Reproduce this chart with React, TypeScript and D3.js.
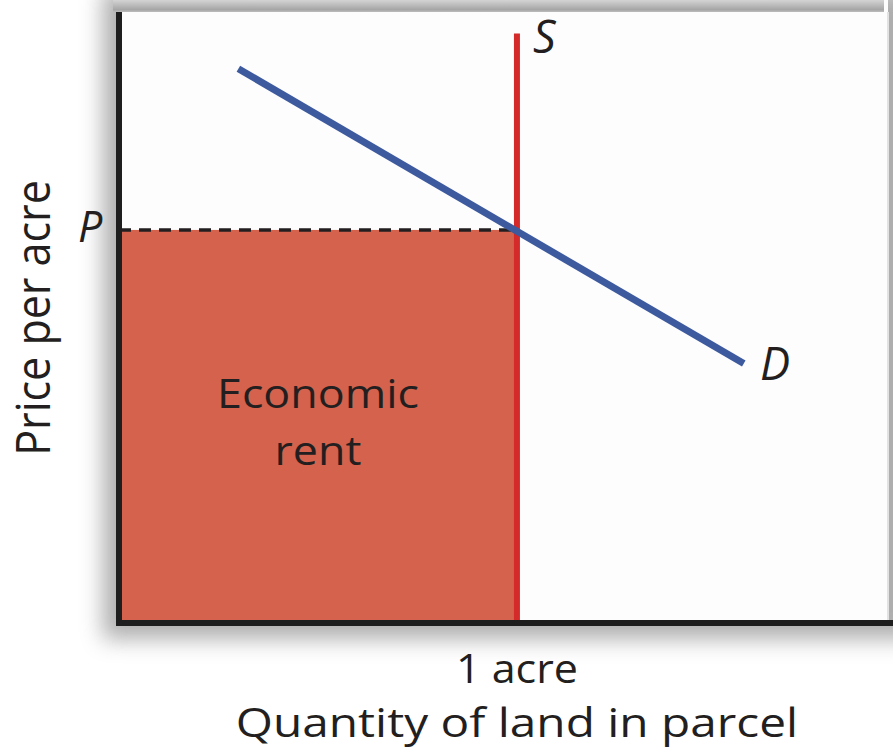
import React from 'react';
import * as d3 from 'd3';

// values (quantity in acres, price in arbitrary units)
const equilibriumPrice = 10;
const supplyQuantity = 1;
const supplyPrices = [0, 15];
const demandQuantities = [0.3, 1.57];
const demandPrices = [14.1, 6.6];
const qDomain = [0, 1.945];
const pDomain = [0, 15.85];

const W = 893;
const H = 752;
const FONT = "'Open Sans', 'Noto Sans', sans-serif";
const INK = '#231f20';

export default function App() {
  const x = d3.scaleLinear().domain(qDomain).range([119, W]);
  const y = d3.scaleLinear().domain(pDomain).range([623, 0]);

  const demand = demandQuantities.map((q, i) => [q, demandPrices[i]] as [number, number]);
  const line = d3.line<[number, number]>().x(d => x(d[0])).y(d => y(d[1]));

  const x0 = x(0);
  const y0 = y(0);
  const xS = x(supplyQuantity);
  const yP = y(equilibriumPrice);
  const rentX = (x0 + xS) / 2;

  return (
    <svg width={W} height={H} style={{ position: 'absolute', left: 0, top: 0, background: '#fff' }}>
      <defs>
        <filter id="shadow" x="-20%" y="-20%" width="140%" height="140%">
          <feGaussianBlur stdDeviation="11" />
        </filter>
        <linearGradient id="topbar" x1="0" y1="0" x2="0" y2="1">
          <stop offset="0" stopColor="#d4d4d4" />
          <stop offset="0.8" stopColor="#a6a6a6" />
          <stop offset="1" stopColor="#bdbdbd" />
        </linearGradient>
      </defs>

      {/* panel shadow and panel */}
      <rect x={x0 - 16} y={-10} width={W} height={y0 + 26} fill="#8c8c8c" opacity={0.7} filter="url(#shadow)" />
      <rect x={x0} y={0} width={888 - x0} height={y0} fill="#fdfdfd" />
      <rect x={x0 - 6} y={0} width={888 - x0 + 2} height={12} fill="url(#topbar)" />
      <line x1={888} x2={888} y1={12} y2={y0} stroke="#e2e2e2" strokeWidth={2} />

      {/* economic rent area */}
      <rect x={x0} y={yP} width={xS - x0} height={y0 - yP} fill="#d4624c" />

      {/* price dashed line */}
      <line x1={x0} x2={xS} y1={yP} y2={yP} stroke={INK} strokeWidth={3.5} strokeDasharray="12 8" />

      {/* supply */}
      <line x1={xS} x2={xS} y1={y(supplyPrices[0])} y2={y(supplyPrices[1])} stroke="#d42a2a" strokeWidth={6} />

      {/* demand */}
      <path d={line(demand) ?? ''} fill="none" stroke="#3d5a9e" strokeWidth={7} />

      {/* axes */}
      <line x1={x0} x2={x0} y1={12} y2={y0 + 3} stroke="#1e1e1e" strokeWidth={6} />
      <line x1={x0 - 3} x2={W} y1={y0} y2={y0} stroke="#1e1e1e" strokeWidth={6} />

      {/* labels */}
      <g fontFamily={FONT} fill={INK}>
        <g transform={`translate(${rentX},0) scale(1.12,1)`}>
          <text x={0} y={408} fontSize={40} textAnchor="middle">Economic</text>
          <text x={0} y={465} fontSize={40} textAnchor="middle">rent</text>
        </g>
        <g transform={`translate(${xS},0) scale(1.05,1)`}>
          <text x={0} y={683} fontSize={41} textAnchor="middle">1 acre</text>
        </g>
        <g transform={`translate(${xS},0) scale(1.21,1)`}>
          <text x={0} y={737} fontSize={39.5} textAnchor="middle">Quantity of land in parcel</text>
        </g>
        <text x={533} y={53} fontSize={45} fontStyle="italic">S</text>
        <text x={760} y={380} fontSize={45} fontStyle="italic">D</text>
        <text x={78} y={242} fontSize={43} fontStyle="italic">P</text>
        <text transform="translate(50,318) scale(1.1,1) rotate(-90)" fontSize={43} textAnchor="middle">Price per acre</text>
      </g>
    </svg>
  );
}
